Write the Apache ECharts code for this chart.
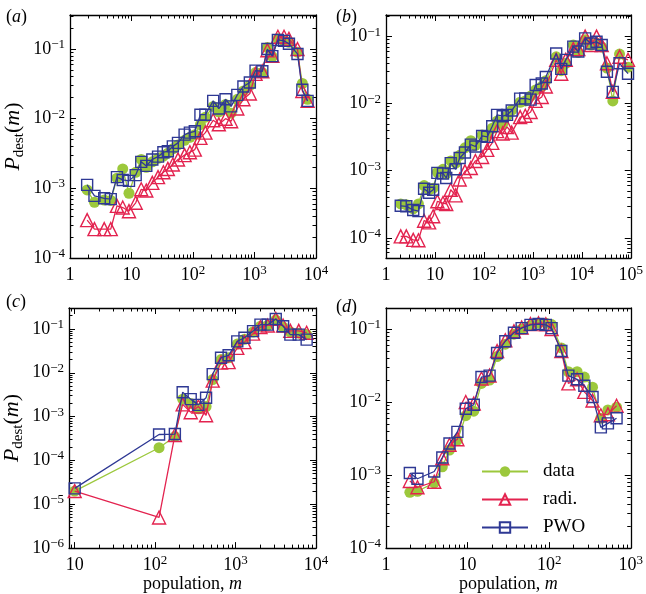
<!DOCTYPE html>
<html>
<head>
<meta charset="utf-8">
<script src="https://cdn.jsdelivr.net/npm/echarts@6/dist/echarts.min.js"></script>
<style>html,body{margin:0;padding:0;background:#fff}#c{width:646px;height:594px}</style>
</head>
<body>
<div id="c"></div>
<script>
// ---------- data ----------
const aX    = [1.9, 2.5, 3.6, 4.6, 5.8, 7.2, 9.1, 11.7, 14.4, 17.4, 21.8, 27, 33, 39, 47, 57, 73, 89, 107, 132, 159, 213, 263, 338, 417, 525, 660, 840, 1040, 1340, 1620, 1950, 2400, 3020, 3630, 5000, 6000, 7300];
const aData = [9.5e-4, 6.3e-4, 6.8e-4, 6.7e-4, 1.4e-3, 1.9e-3, 8.5e-4, 1.7e-3, 2.6e-3, 2.0e-3, 2.4e-3, 2.7e-3, 2.9e-3, 3.2e-3, 3.7e-3, 4.2e-3, 4.9e-3, 5.4e-3, 5.9e-3, 8.2e-3, 1.05e-2, 1.5e-2, 1.25e-2, 1.6e-2, 1.2e-2, 1.9e-2, 2.5e-2, 3.0e-2, 4.6e-2, 4.6e-2, 0.105, 0.078, 0.14, 0.13, 0.125, 0.09, 0.032, 0.019];
const aRadi = [3.5e-4, 2.6e-4, 2.6e-4, 2.6e-4, 5.6e-4, 5.3e-4, 4.7e-4, 6.2e-4, 9.7e-4, 9.3e-4, 1.2e-3, 1.45e-3, 1.7e-3, 1.9e-3, 2.2e-3, 2.6e-3, 3.0e-3, 3.3e-3, 3.6e-3, 5.3e-3, 6.3e-3, 9.5e-3, 8.3e-3, 1.0e-2, 9.2e-3, 1.4e-2, 1.9e-2, 2.3e-2, 4.4e-2, 4.8e-2, 0.096, 0.08, 0.15, 0.15, 0.14, 0.1, 0.025, 0.018];
const aPWO  = [1.12e-3, 7.8e-4, 7.2e-4, 7.0e-4, 1.45e-3, 1.32e-3, 1.28e-3, 1.55e-3, 2.4e-3, 2.1e-3, 2.6e-3, 2.85e-3, 3.3e-3, 3.4e-3, 4.0e-3, 4.5e-3, 5.9e-3, 6.3e-3, 6.6e-3, 1.14e-2, 1.14e-2, 1.8e-2, 1.4e-2, 1.9e-2, 1.5e-2, 2.2e-2, 2.9e-2, 3.3e-2, 4.9e-2, 4.8e-2, 0.1, 0.079, 0.135, 0.131, 0.119, 0.085, 0.026, 0.018];

const bX    = [2.0, 2.6, 3.6, 4.6, 6.0, 7.6, 9.2, 11.2, 14.6, 17, 21, 26.5, 32, 41, 54, 67, 92, 117, 148, 186, 242, 297, 370, 550, 700, 900, 1140, 1520, 1840, 3000, 3800, 4700, 6700, 8500, 11700, 15400, 20000, 25500, 32600, 43000, 59000, 88000];
const bData = [3.2e-4, 3.1e-4, 2.7e-4, 3.2e-4, 6.0e-4, 5.2e-4, 5.5e-4, 9.5e-4, 1.05e-3, 9.0e-4, 1.4e-3, 1.3e-3, 1.7e-3, 2.2e-3, 2.8e-3, 2.4e-3, 3.4e-3, 3.3e-3, 4.3e-3, 5.5e-3, 5.0e-3, 6.5e-3, 8.0e-3, 1.05e-2, 1.1e-2, 1.3e-2, 1.6e-2, 1.8e-2, 2.2e-2, 5.0e-2, 3.1e-2, 4.0e-2, 7.5e-2, 5.8e-2, 9.0e-2, 7.5e-2, 8.0e-2, 7.0e-2, 3.4e-2, 1.1e-2, 5.5e-2, 3.5e-2];
const bRadi = [1.05e-4, 1.05e-4, 9.3e-5, 9.2e-5, 1.8e-4, 1.7e-4, 2.1e-4, 3.5e-4, 3.3e-4, 3.2e-4, 5.2e-4, 4.3e-4, 7.4e-4, 9.8e-4, 1.1e-3, 1.4e-3, 1.6e-3, 2.05e-3, 2.6e-3, 3.9e-3, 3.6e-3, 4.5e-3, 3.7e-3, 6.3e-3, 6.6e-3, 7.5e-3, 1.1e-2, 1.26e-2, 1.8e-2, 4.5e-2, 2.8e-2, 4.5e-2, 6.5e-2, 6.5e-2, 0.1, 7.5e-2, 0.1, 7.5e-2, 4.0e-2, 1.5e-2, 5.0e-2, 4.5e-2];
const bPWO  = [3.0e-4, 2.95e-4, 2.6e-4, 2.5e-4, 5.4e-4, 4.7e-4, 5.2e-4, 9.3e-4, 9.1e-4, 7.8e-4, 1.3e-3, 1.05e-3, 1.55e-3, 1.87e-3, 2.45e-3, 2.3e-3, 3.3e-3, 3.2e-3, 4.6e-3, 6.8e-3, 6.5e-3, 6.8e-3, 7.9e-3, 1.19e-2, 1.2e-2, 1.15e-2, 1.9e-2, 2.0e-2, 2.5e-2, 5.6e-2, 3.3e-2, 4.5e-2, 7.1e-2, 6.0e-2, 9.4e-2, 7.9e-2, 8.4e-2, 7.5e-2, 3.0e-2, 1.5e-2, 4.0e-2, 2.8e-2];

const cX    = [10, 112, 176, 220, 277, 345, 430, 520, 660, 820, 1050, 1290, 1650, 2040, 2510, 3160, 3900, 4800, 6100, 7650];
const cData = [2.0e-5, 1.95e-4, 3.5e-4, 2.5e-3, 2.0e-3, 1.5e-3, 1.7e-3, 7.0e-3, 2.0e-2, 2.2e-2, 4.5e-2, 5.8e-2, 8.5e-2, 0.115, 0.12, 0.16, 0.11, 8.5e-2, 8.0e-2, 7.5e-2];
const cRadi = [2.0e-5, 5.0e-6, 3.8e-4, 1.9e-3, 1.26e-3, 1.7e-3, 1.07e-3, 6.6e-3, 1.7e-2, 1.75e-2, 3.7e-2, 5.0e-2, 7.8e-2, 0.11, 0.12, 0.17, 0.12, 9.0e-2, 9.0e-2, 8.2e-2];
const cPWO  = [2.3e-5, 3.9e-4, 4.0e-4, 3.6e-3, 2.5e-3, 1.85e-3, 2.7e-3, 9.3e-3, 2.2e-2, 2.5e-2, 5.2e-2, 6.3e-2, 8.9e-2, 0.125, 0.125, 0.168, 0.115, 7.4e-2, 7.4e-2, 5.7e-2];

const dX    = [1.96, 2.43, 3.9, 4.9, 6.0, 7.5, 9.5, 11.9, 14.8, 18.6, 23, 29, 37, 46, 59, 74, 91, 107, 141, 172, 220, 270, 340, 430, 525, 670];
const dData = [5.8e-4, 6.0e-4, 7.8e-4, 1.3e-3, 2.2e-3, 3.0e-3, 6.5e-3, 7.5e-3, 1.8e-2, 2.0e-2, 4.2e-2, 6.2e-2, 8.5e-2, 0.1, 0.112, 0.12, 0.12, 0.115, 5.5e-2, 2.6e-2, 2.6e-2, 2.2e-2, 1.6e-2, 6.0e-3, 7.8e-3, 8.5e-3];
const dRadi = [8.3e-4, 6.8e-4, 8.1e-4, 1.7e-3, 2.6e-3, 3.1e-3, 1.0e-2, 9.5e-3, 2.1e-2, 2.3e-2, 5.0e-2, 7.0e-2, 9.3e-2, 0.105, 0.117, 0.12, 0.116, 0.1, 5.0e-2, 1.8e-2, 2.05e-2, 1.38e-2, 1.05e-2, 6.6e-3, 6.8e-3, 8.9e-3];
const dPWO  = [1.07e-3, 8.9e-4, 1.12e-3, 1.74e-3, 2.7e-3, 3.9e-3, 8.1e-3, 9.2e-3, 2.2e-2, 2.3e-2, 4.7e-2, 6.8e-2, 8.9e-2, 0.103, 0.114, 0.117, 0.114, 0.103, 5.0e-2, 2.3e-2, 2.05e-2, 1.67e-2, 1.17e-2, 4.5e-3, 5.1e-3, 6.0e-3];

const seriesNames = ['data', 'radi.', 'PWO'];
const panelLetters = ['a', 'b', 'c', 'd'];
const xAxisTitle = 'population, ';
// ---------- styling / layout ----------
const F = "'Liberation Serif', 'DejaVu Serif', serif";
const GREEN = '#9cc83c', RED = '#e3234f', BLUE = '#2e3894';

const panels = [
  {grid: {left: 70, top: 15, width: 246, height: 243}, xMin: 1, xMax: 1e4, yMin: 1e-4, yMax: 0.308, x: aX, s: [aData, aRadi, aPWO], yName: true, xName: false, lab: {left: 1, top: 3}},
  {grid: {left: 386, top: 15, width: 246, height: 243}, xMin: 1, xMax: 1e5, yMin: 5e-5, yMax: 0.21, x: bX, s: [bData, bRadi, bPWO], yName: false, xName: false, lab: {left: 331, top: 3}},
  {grid: {left: 69, top: 308, width: 247, height: 242}, xMin: 8.5, xMax: 1e4, yMin: 1e-6, yMax: 0.3, x: cX, s: [cData, cRadi, cPWO], yName: true, xName: true, lab: {left: 1, top: 288}},
  {grid: {left: 386, top: 308, width: 246, height: 242}, xMin: 1, xMax: 1e3, yMin: 1e-4, yMax: 0.194, x: dX, s: [dData, dRadi, dPWO], yName: false, xName: true, lab: {left: 331, top: 293}}
];

const rich = {
  b: {fontFamily: F, fontSize: 18, color: '#000', lineHeight: 22},
  s: {fontFamily: F, fontSize: 13, color: '#000', lineHeight: 13, verticalAlign: 'top'}
};
function powLabel(v) {
  const e = Math.log10(v), r = Math.round(e);
  if (Math.abs(e - r) > 1e-6) return '';
  if (r === 0) return '{b|1}';
  if (r === 1) return '{b|10}';
  return '{b|10}{s|' + (r < 0 ? '\u2212' + (-r) : String(r)) + '}';
}
function minorVals(lo, hi) {
  const out = [];
  for (let n = Math.floor(lo) - 1; n <= Math.ceil(hi); n++) {
    for (let k = 2; k <= 9; k++) {
      const v = n + Math.log10(k);
      if (v > lo + 1e-9 && v < hi - 1e-9) out.push(v);
    }
  }
  return out;
}
const lineBlack = {color: '#000', width: 1.3};

const xAxes = [], yAxes = [], series = [], grids = [], titles = [];
panels.forEach((p, gi) => {
  grids.push(Object.assign({containLabel: false}, p.grid));
  titles.push({
    text: '{p|(}{i|' + panelLetters[gi] + '}{p|)}', left: p.lab.left, top: p.lab.top,
    textStyle: {fontWeight: 'normal', rich: {
      p: {fontFamily: F, fontSize: 18, color: '#000', fontWeight: 'normal'},
      i: {fontFamily: F, fontSize: 18, fontStyle: 'italic', color: '#000', fontWeight: 'normal'}}}
  });
  const lx0 = Math.log10(p.xMin), lx1 = Math.log10(p.xMax), ly0 = Math.log10(p.yMin), ly1 = Math.log10(p.yMax);
  const xMain = {
    gridIndex: gi, type: 'log', min: p.xMin, max: p.xMax, position: 'bottom',
    axisLine: {onZero: false, lineStyle: lineBlack},
    axisTick: {inside: true, length: 6, lineStyle: {color: '#000', width: 1}},
    axisLabel: {formatter: powLabel, rich: rich, margin: 6},
    splitLine: {show: false}
  };
  if (p.xName) {
    Object.assign(xMain, {
      name: '{n|' + xAxisTitle + '}{i|m}', nameLocation: 'middle', nameGap: 20,
      nameTextStyle: {rich: {n: {fontFamily: F, fontSize: 18, color: '#000'}, i: {fontFamily: F, fontSize: 18, fontStyle: 'italic', color: '#000'}}}
    });
  }
  xAxes.push(xMain);
  xAxes.push({gridIndex: gi, type: 'log', min: p.xMin, max: p.xMax, position: 'top',
    axisLine: {onZero: false, lineStyle: lineBlack},
    axisTick: {inside: true, length: 6, lineStyle: {color: '#000', width: 1}},
    axisLabel: {show: false}, splitLine: {show: false}});
  ['bottom', 'top'].forEach(pos => xAxes.push({gridIndex: gi, type: 'value', min: lx0, max: lx1, position: pos,
    axisLine: {show: false, onZero: false},
    axisTick: {inside: true, length: 3.5, customValues: minorVals(lx0, lx1), lineStyle: {color: '#000', width: 1}},
    axisLabel: {show: false}, splitLine: {show: false}}));

  const yMain = {
    gridIndex: gi, type: 'log', min: p.yMin, max: p.yMax, position: 'left',
    axisLine: {onZero: false, lineStyle: lineBlack},
    axisTick: {inside: true, length: 6, lineStyle: {color: '#000', width: 1}},
    axisLabel: {formatter: powLabel, rich: rich, margin: 5},
    splitLine: {show: false}
  };
  if (p.yName) {
    Object.assign(yMain, {
      name: '{i|P}{sub|dest}{n|(}{i|m}{n|)}', nameLocation: 'middle', nameGap: 43, nameRotate: 90,
      nameTextStyle: {rich: {
        i: {fontFamily: F, fontSize: 22, fontStyle: 'italic', color: '#000', lineHeight: 28},
        n: {fontFamily: F, fontSize: 22, color: '#000', lineHeight: 28},
        sub: {fontFamily: F, fontSize: 15, color: '#000', lineHeight: 15, verticalAlign: 'bottom'}
      }}
    });
  }
  yAxes.push(yMain);
  yAxes.push({gridIndex: gi, type: 'log', min: p.yMin, max: p.yMax, position: 'right',
    axisLine: {onZero: false, lineStyle: lineBlack},
    axisTick: {inside: true, length: 6, lineStyle: {color: '#000', width: 1}},
    axisLabel: {show: false}, splitLine: {show: false}});
  ['left', 'right'].forEach(pos => yAxes.push({gridIndex: gi, type: 'value', min: ly0, max: ly1, position: pos,
    axisLine: {show: false, onZero: false},
    axisTick: {inside: true, length: 3.5, customValues: minorVals(ly0, ly1), lineStyle: {color: '#000', width: 1}},
    axisLabel: {show: false}, splitLine: {show: false}}));

  const styles = [
    {symbol: 'circle', symbolSize: 11, itemStyle: {color: GREEN, borderWidth: 0}, lineStyle: {color: GREEN, width: 1.3}},
    {symbol: 'triangle', symbolSize: 13, itemStyle: {color: 'rgba(255,255,255,0)', borderColor: RED, borderWidth: 1.4}, lineStyle: {color: RED, width: 1.3}},
    {symbol: 'rect', symbolSize: 11, itemStyle: {color: 'rgba(255,255,255,0)', borderColor: BLUE, borderWidth: 1.4}, lineStyle: {color: BLUE, width: 1.3}}
  ];
  p.s.forEach((ys, si) => {
    series.push(Object.assign({
      type: 'line', name: seriesNames[si], xAxisIndex: gi * 4, yAxisIndex: gi * 4,
      data: p.x.map((xv, i) => [xv, ys[i]]), showAllSymbol: true, silent: true, z: 2 + si
    }, styles[si]));
  });
});

const chart = echarts.init(document.getElementById('c'), null, {renderer: 'canvas'});
chart.setOption({
  animation: false,
  backgroundColor: '#fff',
  title: titles,
  grid: grids,
  xAxis: xAxes,
  yAxis: yAxes,
  legend: {
    data: seriesNames, orient: 'vertical', left: 476, top: 457,
    itemWidth: 46, itemHeight: 13, itemGap: 9,
    textStyle: {fontFamily: F, fontSize: 19, color: '#000', lineHeight: 14, padding: [0, 0, 0, 10]},
    selectedMode: false
  },
  series: series
});
</script>
</body>
</html>
